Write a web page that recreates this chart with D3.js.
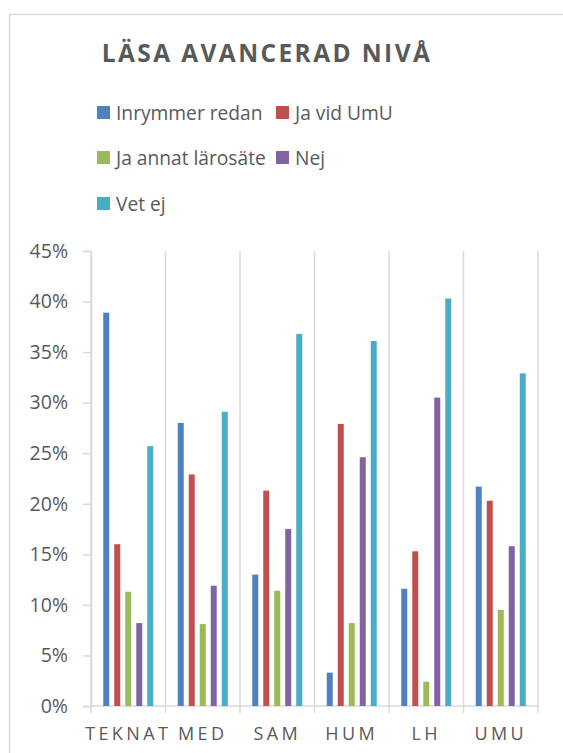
<!DOCTYPE html>
<html>
<head>
<meta charset="utf-8">
<script src="https://cdn.jsdelivr.net/npm/d3@7"></script>
<style>
  html, body { margin: 0; padding: 0; background: #fff; overflow: hidden; }
  svg { display: block; font-family: "Open Sans", sans-serif; }
</style>
</head>
<body>
<svg id="chart" width="563" height="753"></svg>
<script>
// Faculties along the category axis
const categories = ["TEKNAT", "MED", "SAM", "HUM", "LH", "UMU"];
// Answer alternatives (one bar per faculty each)
const seriesNames = ["Inrymmer redan", "Ja vid UmU", "Ja annat lärosäte", "Nej", "Vet ej"];
const seriesColors = ["#4f81bd", "#c0504d", "#9bbb59", "#8064a2", "#4bacc6"];
// Shares per answer, in faculty order
const inrymmerRedan   = [0.389, 0.280, 0.130, 0.033, 0.116, 0.217];
const jaVidUmU        = [0.160, 0.229, 0.213, 0.279, 0.153, 0.203];
const jaAnnatLarosate = [0.113, 0.081, 0.114, 0.082, 0.024, 0.095];
const nej             = [0.082, 0.119, 0.175, 0.246, 0.305, 0.158];
const vetEj           = [0.257, 0.291, 0.368, 0.361, 0.403, 0.329];
const yTicks = [0, 0.05, 0.10, 0.15, 0.20, 0.25, 0.30, 0.35, 0.40, 0.45];

const seriesValues = [inrymmerRedan, jaVidUmU, jaAnnatLarosate, nej, vetEj];

const svg = d3.select("#chart");
const grid = "#d9d9d9";
const textCol = "#595959";

// Chart frame (top and left edges fall inside the view)
svg.append("path")
  .attr("d", "M9.5,753 V14.5 H563")
  .attr("fill", "none").attr("stroke", grid).attr("stroke-width", 1.5);

// Title
svg.append("text")
  .attr("x", 267).attr("y", 62)
  .attr("text-anchor", "middle")
  .attr("font-size", 24.5).attr("font-weight", "bold")
  .attr("letter-spacing", 2.4)
  .attr("fill", textCol)
  .text("LÄSA AVANCERAD NIVÅ");

// Legend
const legendPos = [[97, 106], [276, 106], [97, 151], [276, 151], [97, 197]];
const legend = svg.append("g");
seriesNames.forEach((name, i) => {
  const [lx, ly] = legendPos[i];
  legend.append("rect")
    .attr("x", lx).attr("y", ly).attr("width", 13).attr("height", 13)
    .attr("fill", seriesColors[i]);
  legend.append("text")
    .attr("x", lx + 19).attr("y", ly + 13.5)
    .attr("font-size", 19.2).attr("fill", textCol)
    .text(name);
});

// Plot area
const plotLeft = 91, plotRight = 538, plotTop = 251, plotBottom = 706;

const x0 = d3.scaleBand().domain(categories).range([plotLeft, plotRight]).padding(0);
const groupPad = 12.25;
const x1 = d3.scaleBand().domain(d3.range(seriesNames.length))
  .range([groupPad, x0.bandwidth() - groupPad])
  .paddingInner(0.4545).paddingOuter(0);
const y = d3.scaleLinear().domain([0, 0.45]).range([plotBottom, plotTop]);

// Vertical separators between faculties
const bounds = categories.map(c => x0(c)).concat([plotRight]);
svg.append("g").selectAll("line").data(bounds).join("line")
  .attr("x1", d => d).attr("x2", d => d)
  .attr("y1", plotTop).attr("y2", plotBottom + 7)
  .attr("stroke", grid).attr("stroke-width", 1.5);

// Y axis
const yAxis = svg.append("g")
  .attr("transform", `translate(${plotLeft},0)`)
  .call(d3.axisLeft(y).tickValues(yTicks).tickFormat(d3.format(".0%"))
    .tickSize(8).tickPadding(15));
yAxis.select(".domain").attr("stroke", grid).attr("stroke-width", 1.5);
yAxis.selectAll(".tick line").attr("stroke", grid).attr("stroke-width", 1.5);
yAxis.selectAll(".tick text")
  .attr("font-size", 19.5).attr("fill", textCol)
  .attr("font-family", "'Open Sans', sans-serif");

// X axis line
svg.append("line")
  .attr("x1", plotLeft).attr("x2", plotRight)
  .attr("y1", plotBottom).attr("y2", plotBottom)
  .attr("stroke", grid).attr("stroke-width", 1.5);

// X labels
const xAxis = svg.append("g")
  .attr("transform", `translate(0,${plotBottom})`)
  .call(d3.axisBottom(x0).tickSize(0).tickPadding(21));
xAxis.select(".domain").remove();
xAxis.selectAll(".tick text")
  .attr("font-size", 18).attr("fill", textCol)
  .attr("letter-spacing", 3.4)
  .attr("font-family", "'Open Sans', sans-serif");

// Bars
const groups = svg.append("g").selectAll("g").data(categories).join("g")
  .attr("transform", c => `translate(${x0(c)},0)`);
groups.selectAll("rect")
  .data((c, ci) => seriesValues.map((vals, si) => ({ si, v: vals[ci] })))
  .join("rect")
  .attr("x", d => x1(d.si))
  .attr("width", x1.bandwidth())
  .attr("y", d => y(d.v))
  .attr("height", d => plotBottom - y(d.v))
  .attr("fill", d => seriesColors[d.si]);
</script>
</body>
</html>
